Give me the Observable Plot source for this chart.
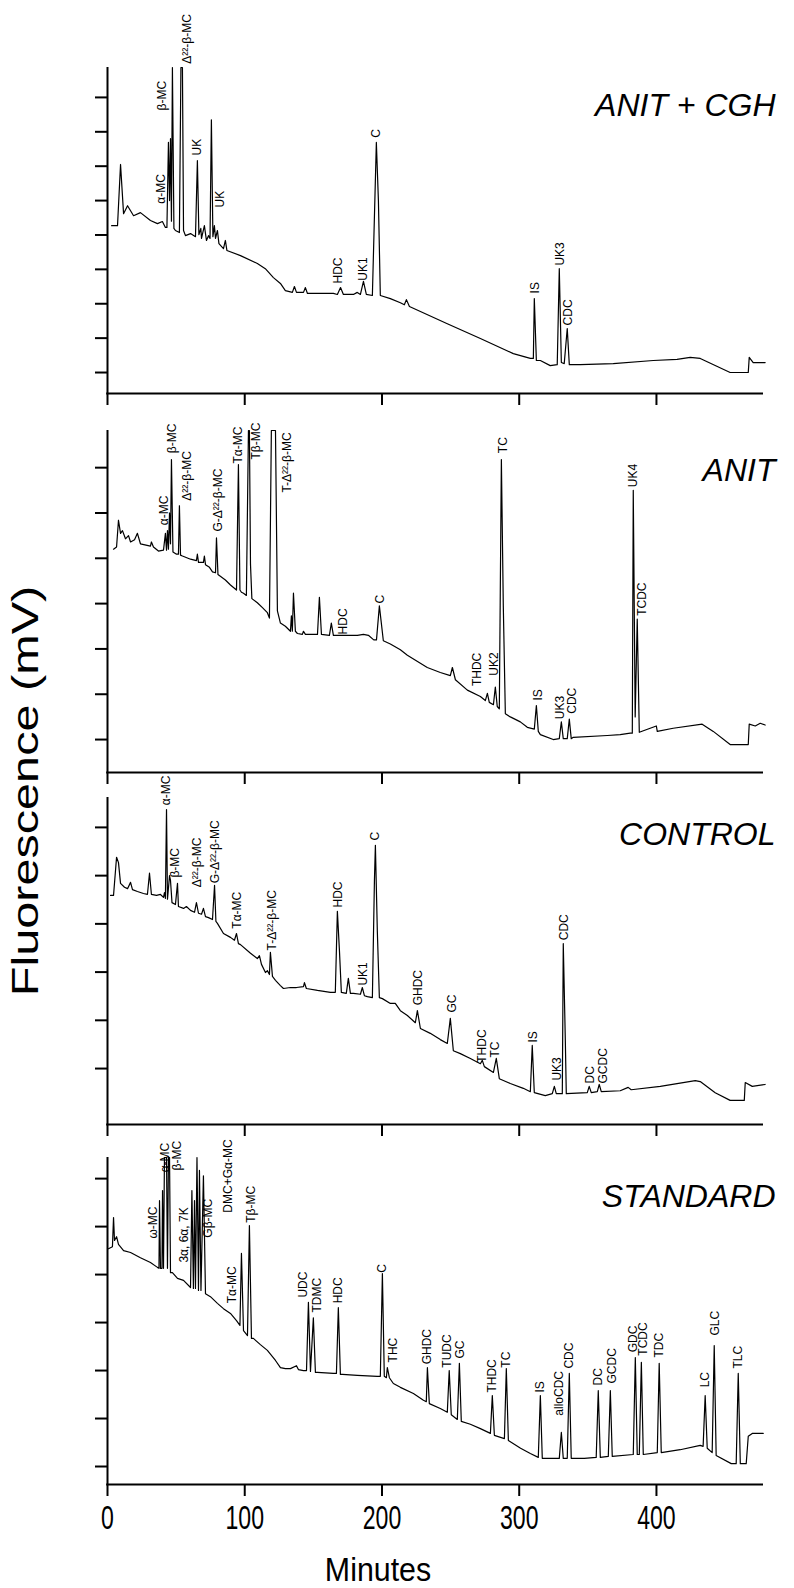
<!DOCTYPE html>
<html><head><meta charset="utf-8">
<script src="https://cdn.jsdelivr.net/npm/d3@7"></script>
<script src="https://cdn.jsdelivr.net/npm/@observablehq/plot@0.6"></script>
<style>
body{margin:0;background:#fff;}
#fig{position:relative;width:794px;height:1588px;overflow:hidden;font-family:"Liberation Sans",Arial,Helvetica,sans-serif;color:#000;}
#ylab{position:absolute;left:26px;top:791px;transform:translate(-50%,-50%) rotate(-90deg) scale(1.35,1);font-size:36px;white-space:nowrap;line-height:1;}
#xlab{position:absolute;left:378px;top:1569px;transform:translate(-50%,-50%) scale(0.92,1);font-size:33px;white-space:nowrap;line-height:1;}
</style></head>
<body><div id="fig"><div id="ylab">Fluorescence (mV)</div><div id="xlab">Minutes</div></div>
<script>
// ---------- data ----------
const xTicks = [0, 100, 200, 300, 400];
const panelNames = ["ANIT + CGH", "ANIT", "CONTROL", "STANDARD"];

const yTicksCGH = [0,1,2,3,4,5,6,7,8];
const yTicksANIT = [0,1,2,3,4,5,6];
const yTicksCONTROL = [0,1,2,3,4,5];
const yTicksSTANDARD = [0,1,2,3,4,5,6];

const traceCGH = [[3,4.27],[7.3,4.27],[9.5,6.05],[11.7,4.62],[14.6,4.85],[19,4.56],[24,4.65],[31.3,4.42],[36.4,4.33],[40,4.39],[42.2,4.22],[43.3,4.22],[44.4,6.69],[45.2,5.0],[45.9,6.8],[46.6,4.4],[47.3,8.87],[48.4,4.19],[49.5,4.13],[52.4,4.07],[53.5,8.87],[54.6,8.87],[55.4,4.13],[56.8,3.98],[60.5,4.04],[64.1,3.95],[65.5,6.16],[66.6,4.01],[68,4.19],[68.5,3.9],[70.6,4.27],[72.1,3.84],[73.6,3.98],[74.7,3.9],[75.7,7.35],[76.8,3.95],[77.9,4.27],[78.7,3.9],[80.1,4.13],[81.2,3.75],[84.5,3.6],[85.9,3.84],[87,3.55],[96.9,3.4],[109.2,3.17],[115,3.02],[120.9,2.76],[126,2.59],[129.6,2.38],[134.7,2.33],[136.2,2.5],[137.7,2.33],[142.8,2.33],[144.2,2.47],[145.7,2.3],[157.3,2.3],[164.6,2.3],[167.5,2.27],[169.8,2.47],[171.9,2.27],[179.2,2.27],[182,2.33],[184.3,2.27],[186.5,2.65],[188.6,2.27],[193,2.24],[195.9,6.69],[197.4,5.0],[198.8,2.24],[206.1,2.15],[213.4,2.03],[216.3,1.97],[217.8,2.12],[220,1.92],[247.6,1.42],[271.7,0.99],[295.7,0.55],[308.1,0.41],[310.3,0.41],[311,2.15],[312.5,0.35],[315.4,0.35],[322.6,0.2],[327.7,0.23],[329.2,3.02],[330.7,0.29],[332.8,0.26],[335,1.28],[336.5,0.23],[344.5,0.23],[368.5,0.26],[397.7,0.35],[415,0.38],[424.6,0.44],[431.9,0.41],[453.7,0],[466.9,0],[467.6,0.44],[470.5,0.29],[479.2,0.29]];
const labelsCGH = [["α-MC",39.3,4.91],["β-MC",40,7.62],["Δ²²-β-MC",58.3,8.98],["UK",65.5,6.31],["UK",82.3,4.8],["HDC",168.2,2.59],["UK1",186.5,2.67],["C",195.9,6.83],["IS",311.7,2.3],["UK3",329.9,3.11],["CDC",335.8,1.37]];

const traceANIT = [[4.4,4.2],[6.6,4.25],[8,4.84],[9.5,4.55],[10.9,4.61],[13.1,4.43],[15.3,4.5],[16.8,4.36],[19.7,4.41],[21.8,4.55],[24,4.32],[31.3,4.27],[32,4.36],[33.5,4.25],[37.1,4.16],[40.8,4.18],[42.2,4.55],[43,4.18],[43.7,4.61],[44.4,4.2],[45.2,5.0],[45.9,4.32],[46.6,6.18],[47.7,4.14],[50.3,4.09],[51.7,4.09],[52.4,5.16],[53.2,4.07],[54.6,4.05],[60.5,3.98],[64.8,3.95],[65.5,4.09],[66.3,3.91],[69.9,3.91],[70.6,4.05],[71.4,3.86],[74.3,3.8],[76.5,3.7],[78.7,3.68],[79.4,4.45],[80.5,3.64],[85.9,3.52],[89.6,3.41],[94,3.3],[95.4,6.07],[96.5,3.3],[97.6,3.25],[99.1,3.23],[101.2,3.18],[102.7,6.82],[103.4,6.82],[104.2,3.86],[105.2,3.11],[109.2,3.02],[112.9,2.91],[116.5,2.8],[118,2.68],[119.4,6.82],[122.4,6.82],[123.8,2.84],[126,2.57],[129.6,2.5],[133.3,2.39],[134,2.73],[134.7,2.39],[135.5,3.23],[136.9,2.39],[138.4,2.34],[142,2.32],[142.8,2.39],[144.2,2.32],[153,2.32],[154.4,3.14],[155.9,2.32],[161.7,2.3],[163.1,2.57],[164.6,2.3],[169.7,2.3],[182.1,2.3],[186.5,2.32],[190.1,2.3],[194,2.2],[196,2.2],[198.1,2.95],[201,2.18],[206.1,2.11],[213.4,1.98],[218.5,1.86],[233,1.59],[242.5,1.48],[249.8,1.41],[251.3,1.59],[253.5,1.32],[262.2,1.09],[271.7,0.95],[275.3,0.86],[276.8,1.02],[278.2,0.82],[281.2,0.77],[282.6,1.16],[284,0.73],[285.5,0.68],[287,6.18],[288.4,2.95],[289.9,0.57],[293.5,0.5],[300.8,0.39],[305.9,0.27],[311,0.23],[312.5,0.75],[313.9,0.18],[315.4,0.11],[324.8,0],[329.2,0.02],[330.7,0.39],[332.1,0.02],[335,0.02],[336.5,0.45],[337.9,0.02],[339.4,0.05],[364.2,0.09],[373.6,0.11],[380.9,0.14],[382.4,0.14],[383.1,5.5],[384.5,0.5],[386,2.66],[387.5,0.16],[399.9,0.3],[400.6,0.18],[412.2,0.25],[433.3,0.34],[441.4,0.18],[453.7,-0.11],[466.9,-0.11],[467.6,0.34],[472,0.3],[475.6,0.36],[479.2,0.32]];
const labelsANIT = [["α-MC",41.5,4.73],["β-MC",47.3,6.32],["Δ²²-β-MC",58.3,5.27],["G-Δ²²-β-MC",80.8,4.59],["Tα-MC",95.4,6.09],["Tβ-MC",108.5,6.18],["T-Δ²²-β-MC",131.1,5.45],["HDC",171.9,2.32],["C",198.8,3.0],["THDC",269.5,1.18],["UK2",281.9,1.41],["TC",288.4,6.32],["IS",313.9,0.86],["UK3",329.9,0.45],["CDC",338.6,0.57],["UK4",383.1,5.57],["TCDC",389.7,2.73]];

const traceCONTROL = [[2.2,3.59],[4.4,3.59],[6.6,4.38],[8,4.27],[9.5,3.84],[12.4,3.76],[14.6,3.73],[16.8,3.86],[18.2,3.71],[21.8,3.67],[26.2,3.63],[29.1,3.61],[30.6,4.05],[32,3.61],[35.7,3.59],[38.6,3.61],[40.8,3.55],[41.5,3.65],[42.2,3.53],[43,5.37],[43.7,3.51],[45.2,4.0],[45.9,3.9],[47,3.44],[49.5,3.4],[51,3.84],[51.7,3.36],[55.4,3.32],[57.5,3.36],[60.5,3.28],[63.4,3.24],[64.8,3.44],[66.3,3.22],[68.5,3.2],[69.9,3.32],[71.4,3.15],[73.6,3.13],[76.5,3.09],[78,3.8],[79,3.05],[80.1,3.01],[84.5,2.8],[89.6,2.72],[92.5,2.66],[94,2.8],[95.4,2.59],[96.9,2.57],[104.2,2.39],[109.2,2.28],[110.7,2.34],[112.2,2.16],[115.1,1.99],[116.5,2.03],[118,1.95],[118.7,2.41],[120.2,1.91],[122.4,1.83],[126,1.72],[128.2,1.66],[133.3,1.68],[137.7,1.68],[142.8,1.7],[143.5,1.78],[144.9,1.66],[153,1.62],[162.4,1.58],[166,1.58],[167.5,3.26],[169,2.45],[170.4,1.58],[174,1.56],[175.5,1.87],[177,1.56],[179.2,1.56],[184.3,1.54],[185.7,1.68],[187.2,1.51],[189.4,1.49],[193,1.47],[194.5,3.9],[195.2,4.63],[196.6,2.86],[198.1,1.47],[200.3,1.45],[206.1,1.35],[209.7,1.35],[213.4,1.2],[218.5,1.1],[224.3,0.95],[225.8,1.2],[228,0.83],[235.2,0.73],[242.5,0.6],[247.6,0.52],[249.8,1.04],[252,0.37],[257.1,0.31],[264.4,0.21],[271.7,0.1],[273.1,0.17],[274.6,0.04],[281.2,-0.08],[283.3,0.21],[285.5,-0.21],[293.5,-0.31],[303,-0.41],[308.1,-0.48],[309.5,0.48],[311,-0.5],[319,-0.56],[324.1,-0.52],[325.6,-0.37],[327,-0.52],[331.4,-0.52],[332.1,2.59],[333.6,0.58],[334.3,-0.52],[349.6,-0.5],[351,-0.37],[352.5,-0.5],[356.9,-0.48],[358.3,-0.33],[359.8,-0.48],[373.6,-0.46],[379.4,-0.39],[381.6,-0.44],[402.8,-0.37],[428.3,-0.25],[431.9,-0.27],[442.8,-0.5],[453.7,-0.66],[464,-0.66],[464.7,-0.29],[469.8,-0.37],[479.2,-0.33]];
const labelsCONTROL = [["α-MC",43,5.46],["β-MC",49.5,3.96],["Δ²²-β-MC",65.5,3.76],["G-Δ²²-β-MC",78.7,3.84],["Tα-MC",94.7,2.9],["T-Δ²²-β-MC",120.2,2.45],["HDC",168.2,3.34],["UK1",186.5,1.72],["C",195.2,4.73],["GHDC",226.5,1.31],["GC",251.3,1.16],["THDC",273.1,0.12],["TC",282.6,0.23],["IS",310.3,0.54],["UK3",327.7,-0.25],["CDC",332.8,2.66],["DC",351.8,-0.31],["GCDC",361.3,-0.31]];

const traceSTANDARD = [[0.7,4.54],[3.6,4.58],[4.4,5.19],[5.1,4.71],[6.6,4.79],[8,4.63],[11.7,4.5],[16.8,4.46],[24,4.35],[31.3,4.25],[36.4,4.15],[37.5,4.13],[37.9,5.54],[38.6,4.13],[39.7,4.13],[40.1,5.75],[40.8,4.13],[41.5,6.44],[43,6.44],[43.7,4.13],[44.4,6.44],[45.2,6.44],[45.9,4.04],[47.3,4.04],[51,3.92],[55.4,3.88],[60.5,3.73],[61.5,5.75],[62.6,3.71],[63.4,5.54],[64.1,3.71],[65.2,6.44],[66.3,3.67],[67,6.17],[68.1,3.67],[69.9,6.06],[71.4,3.6],[75,3.54],[80.1,3.4],[84.5,3.29],[89.6,3.19],[94,3.04],[96.5,2.94],[97.6,4.44],[99.1,2.83],[102,2.73],[103.4,5.02],[104.9,2.67],[106.3,2.67],[111.4,2.54],[116.5,2.42],[122.4,2.21],[126,2.06],[129.6,2.04],[133.3,2.04],[137.7,2.1],[139.1,2.02],[142.8,2.0],[145,2.0],[146.4,3.42],[147.9,1.98],[150,3.1],[151.5,1.96],[153,1.96],[164.6,1.94],[166.8,1.94],[168.2,3.31],[169.7,1.92],[171.2,1.92],[182.1,1.9],[196.6,1.88],[198.8,1.88],[200.3,4.02],[201.7,1.88],[203.2,1.85],[203.9,2.06],[205.4,1.85],[208.3,1.73],[213.4,1.65],[222.9,1.52],[230.2,1.38],[232.3,1.35],[233.1,2.06],[234.5,1.31],[242.5,1.21],[247.6,1.13],[249,2.0],[250.5,1.08],[254.9,0.98],[256.4,2.15],[257.8,0.94],[264.4,0.88],[271.7,0.79],[279,0.69],[280.4,1.48],[281.9,0.65],[289.2,0.58],[290.6,2.04],[292.1,0.54],[301,0.38],[308.1,0.27],[313.9,0.19],[315.4,1.48],[316.8,0.17],[322.6,0.17],[329.2,0.17],[330.7,0.71],[332.1,0.17],[335,0.17],[336.5,1.94],[337.9,0.17],[347.4,0.17],[356.1,0.19],[357.6,1.58],[359.1,0.19],[364.9,0.21],[366.4,1.58],[367.8,0.21],[383.1,0.25],[384.6,2.27],[386,0.25],[387.5,0.25],[389,2.17],[390.4,0.25],[400.6,0.29],[402,2.15],[403.5,0.29],[417.3,0.35],[431.9,0.44],[434,0.42],[435.5,1.48],[437,0.38],[440.6,0.29],[442.1,2.52],[443.5,0.23],[454.5,0.06],[458.1,0.06],[459.6,1.94],[461.1,0.06],[465.4,0.06],[466.9,0.63],[469.8,0.69],[477.8,0.69]];
const labelsSTANDARD = [["ω-MC",33.5,4.75],["α-MC",42.2,6.13],["β-MC",51,6.17],["3α, 6α, 7K",56.1,4.25],["Gβ-MC",73.6,4.77],["DMC+Gα-MC",88.1,5.29],["Tβ-MC",104.9,5.08],["Tα-MC",91,3.4],["UDC",142.8,3.52],["TDMC",153,3.21],["HDC",168.2,3.4],["C",200.3,4.04],["THC",208.3,2.17],["GHDC",233.1,2.13],["TUDC",247.6,2.06],["GC",257.1,2.25],["THDC",280.4,1.54],["TC",290.6,2.06],["IS",315.4,1.54],["alloCDC",329.2,1.06],["CDC",336.5,2.04],["DC",357.6,1.69],["GCDC",367.8,1.73],["GDC",383.1,2.38],["TCDC",390.4,2.31],["TDC",402,2.27],["LC",435.5,1.65],["GLC",442.8,2.73],["TLC",459.6,2.04]];

// ---------- drawing ----------
const FONT = '"Liberation Sans", Arial, Helvetica, sans-serif';
const fig = document.getElementById("fig");
const X_MAX = 478, ML = 107, MR = 31;
const pxPerMin = (794 - ML - MR) / X_MAX;

function drawPanel(cfg) {
  const {name, trace, labels, ticks, top, height, mt, mb, vmin, vmax, titleDy, bottom} = cfg;
  const pxv = (height - mt - mb) / (vmax - vmin);
  const marks = [
    Plot.ruleX([0], {y1: vmin, y2: vmax, stroke: "black", strokeWidth: 2}),
    Plot.ruleY([vmin], {x1: -0.6, x2: X_MAX, stroke: "black", strokeWidth: 2}),
    Plot.ruleY(ticks, {x1: -12 / pxPerMin, x2: 0, stroke: "black", strokeWidth: 2}),
    Plot.ruleX(xTicks, {y1: vmin, y2: vmin - 12 / pxv, stroke: "black", strokeWidth: 2}),
    Plot.line(trace, {x: d => d[0], y: d => d[1], stroke: "black", strokeWidth: 1.2, strokeLinejoin: "round"}),
    Plot.text(labels, {x: d => d[1], y: d => d[2], text: d => d[0], rotate: -90, textAnchor: "start", lineAnchor: "middle", fontSize: 12, fill: "black"}),
    Plot.text([name], {text: d => d, frameAnchor: "top-right", dx: 12, dy: titleDy, fontSize: 32, fontStyle: "italic", textAnchor: "end", lineAnchor: "middle", fill: "black"})
  ];
  if (bottom) marks.push(Plot.text(xTicks, {x: d => d, y: vmin, text: d => String(d), dy: 34, fontSize: 33, lineAnchor: "middle", fill: "black"}));
  const svg = Plot.plot({
    width: 794, height,
    marginLeft: ML, marginRight: MR, marginTop: mt, marginBottom: mb,
    x: {domain: [0, X_MAX], axis: null},
    y: {domain: [vmin, vmax], axis: null},
    style: {background: "transparent", overflow: "visible", fontFamily: FONT, color: "black"},
    marks
  });
  svg.style.position = "absolute";
  svg.style.left = "0px";
  svg.style.top = top + "px";
  fig.appendChild(svg);
  if (bottom) {
    svg.querySelectorAll("text").forEach(el => {
      if (/^\d+$/.test(el.textContent)) {
        const tr = el.getAttribute("transform");
        if (tr) el.setAttribute("transform", tr + " scale(0.7,1)");
      }
    });
  }
}

drawPanel({name: panelNames[0], trace: traceCGH, labels: labelsCGH, ticks: yTicksCGH, top: 0, height: 410, mt: 67, mb: 17, vmin: -0.61, vmax: 8.87, titleDy: 38});
drawPanel({name: panelNames[1], trace: traceANIT, labels: labelsANIT, ticks: yTicksANIT, top: 410, height: 370, mt: 20, mb: 8, vmin: -0.727, vmax: 6.82, titleDy: 40});
drawPanel({name: panelNames[2], trace: traceCONTROL, labels: labelsCONTROL, ticks: yTicksCONTROL, top: 780, height: 360, mt: 17, mb: 16, vmin: -1.16, vmax: 5.62, titleDy: 37});
drawPanel({name: panelNames[3], trace: traceSTANDARD, labels: labelsSTANDARD, ticks: yTicksSTANDARD, top: 1140, height: 448, mt: 17, mb: 104, vmin: -0.375, vmax: 6.44, titleDy: 39, bottom: true});
</script></body></html>
